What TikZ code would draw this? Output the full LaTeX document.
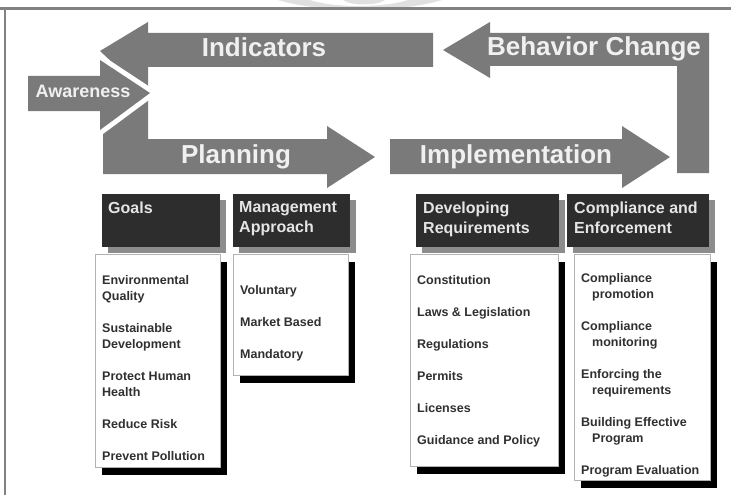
\documentclass[tikz,border=0pt]{standalone}
\usepackage{fontspec}
\setmainfont{Liberation Sans}
\usetikzlibrary{positioning}
\usetikzlibrary{shadows}

\definecolor{arrowgray}{RGB}{122,122,122}
\definecolor{headdark}{RGB}{45,45,45}
\definecolor{headshade}{RGB}{140,140,140}
\definecolor{itemtext}{RGB}{48,48,48}
\definecolor{framegray}{RGB}{130,130,130}

\begin{document}
\begin{tikzpicture}[x=1pt, y=-1pt,
	bigarrow/.style={fill=arrowgray},
	arrowlabel/.style={text=white!94!black, font=\fontsize{26}{30}\selectfont\bfseries, inner sep=0pt, anchor=base},
	headbox/.style={rectangle, fill=headdark, inner sep=0pt, anchor=north west, minimum height=53pt, drop shadow={shadow xshift=6pt, shadow yshift=-6pt, fill=headshade, opacity=1}},
	headtext/.style={text=white!90!black, font=\fontsize{16}{20}\selectfont\bfseries, align=left, inner sep=0pt, anchor=north west},
	listbox/.style={rectangle, draw=black!30, line width=0.6pt, fill=white, inner sep=0pt, anchor=north west, drop shadow={shadow xshift=7pt, shadow yshift=-8pt, fill=black, opacity=1}},
	listtext/.style={text=itemtext, font=\fontsize{12.5}{16}\selectfont\bfseries, align=left, inner sep=0pt, anchor=north west}]
	\useasboundingbox (0,0) rectangle (731,495);
	\fill[white] (0,0) rectangle (731,495);
	\fill[black!12] (278,0) .. controls (320,13) and (400,13) .. (442,0) -- cycle;
	\fill[white] (310,0) .. controls (335,8) and (382,8) .. (408,0) -- cycle;
	\fill[black!12] (343,0) .. controls (352,6) and (376,6) .. (385,0) -- cycle;
	\draw[framegray, line width=2.5pt] (0,8.5) -- (731,8.5);
	\draw[framegray, line width=2.2pt] (5,8) -- (5,495);

	\fill[bigarrow] (433,33) -- (148,33) -- (148,22) -- (100,51) -- (148,96) -- (148,67) -- (433,67) -- cycle;
	\fill[bigarrow] (443,50) -- (490,22) -- (490,33) -- (709,33) -- (709,173) -- (677,173) -- (677,66) -- (490,66) -- (490,78) -- cycle;
	\fill[bigarrow] (103,92) -- (148,92) -- (148,139) -- (327,139) -- (327,126) -- (375,157) -- (327,188) -- (327,174) -- (103,174) -- cycle;
	\fill[bigarrow] (390,139) -- (622,139) -- (622,126) -- (670,157) -- (622,188) -- (622,174) -- (390,174) -- cycle;
	\path[bigarrow, preaction={draw=white, line width=10pt, line join=round}] (28,76) -- (100,76) -- (100,60) -- (150,93) -- (100,130) -- (100,111) -- (28,111) -- cycle;

	\node[arrowlabel] (indicators) at (264,57) {Indicators};
	\node[arrowlabel] (behavior) at (594,56) {Behavior Change};
	\node[arrowlabel] (planning) at (236,163) {Planning};
	\node[arrowlabel] (implementation) at (516,163) {Implementation};
	\node[arrowlabel, font=\fontsize{18}{22}\selectfont\bfseries] (awareness) at (83,98) {Awareness};

	\node[headbox, minimum width=118pt] (goalshead) at (102,194) {};
	\node[headbox, minimum width=117pt] (mgmthead) at (233,194) {};
	\node[headbox, minimum width=143pt] (devhead) at (416,194) {};
	\node[headbox, minimum width=142pt] (comphead) at (567,194) {};
	\node[headtext] (goalslabel) at ([shift={(6,7.4)}]goalshead.north west) {Goals};
	\node[headtext] (mgmtlabel) at ([shift={(6,7.4)}]mgmthead.north west) {Management\\Approach};
	\node[headtext] (devlabel) at ([shift={(7,7.4)}]devhead.north west) {Developing\\Requirements};
	\node[headtext] (complabel) at ([shift={(7,7.4)}]comphead.north west) {Compliance and\\Enforcement};

	\node[listbox, minimum width=125pt, minimum height=213pt] (goalslist) at (95,254) {};
	\node[listbox, minimum width=115pt, minimum height=121pt] (mgmtlist) at (233,254) {};
	\node[listbox, minimum width=148pt, minimum height=212pt] (devlist) at (410,254) {};
	\node[listbox, minimum width=136pt, minimum height=226pt] (complist) at (574,254) {};
	\node[listtext] (goalsitems) at ([shift={(7,20.9)}]goalslist.north west) {Environmental\\Quality\\[16pt]Sustainable\\Development\\[16pt]Protect Human\\Health\\[16pt]Reduce Risk\\[16pt]Prevent Pollution};
	\node[listtext] (mgmtitems) at ([shift={(7,30.9)}]mgmtlist.north west) {Voluntary\\[16pt]Market Based\\[16pt]Mandatory};
	\node[listtext] (devitems) at ([shift={(7,20.9)}]devlist.north west) {Constitution\\[16pt]Laws \& Legislation\\[16pt]Regulations\\[16pt]Permits\\[16pt]Licenses\\[16pt]Guidance and Policy};
	\node[listtext] (compitems) at ([shift={(7,18.9)}]complist.north west) {Compliance\\\hspace*{11pt}promotion\\[16pt]Compliance\\\hspace*{11pt}monitoring\\[16pt]Enforcing the\\\hspace*{11pt}requirements\\[16pt]Building Effective\\\hspace*{11pt}Program\\[16pt]Program Evaluation};
\end{tikzpicture}
\end{document}
